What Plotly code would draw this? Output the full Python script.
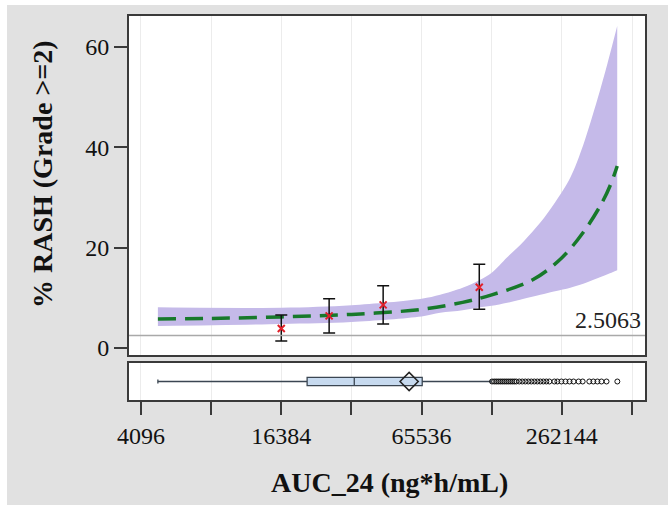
import plotly.graph_objects as go

# ---------------- data ----------------
curve_auc = [4840, 8192, 16384, 32768, 65536, 98304, 131072, 196608,
             262144, 327680, 393216, 425984, 453000]
curve_fit = [5.8, 5.9, 6.2, 6.7, 7.7, 9.1, 10.6, 13.6, 18.0, 23.4, 29.3, 32.8, 36.3]

band_auc = [4840, 16384, 32768, 65536, 78750, 98304, 116980, 131072, 152770,
            180000, 211920, 245000, 285030, 323850, 372500, 411610, 453000]
band_lower = [4.4, 4.8, 5.2, 6.3, 7.0, 7.5, 8.1, 8.4, 9.0,
              9.8, 10.6, 11.3, 12.0, 12.8, 13.9, 14.7, 15.5]
band_upper = [8.1, 8.0, 8.5, 9.8, 10.6, 12.0, 13.6, 15.0, 18.1,
              21.3, 25.0, 29.0, 34.0, 40.5, 49.6, 56.8, 64.2]

obs_auc = [16384, 26290, 44830, 115900]
obs_pct = [3.9, 6.4, 8.6, 12.1]
obs_hi = [6.6, 9.8, 12.4, 16.7]
obs_lo = [1.4, 3.0, 4.8, 7.7]

ref_value = 2.5063
ref_label = "2.5063"

box_min = 4840
box_q1 = 21150
box_median = 33700
box_q3 = 65950
box_mean = 57950
box_upper_whisker = 130000
outliers = [131500, 134350, 137040, 139780, 142570, 145410, 148310, 151270,
            154290, 157370, 160510, 163710, 166990, 172030, 177240, 182600,
            188120, 193800, 199660, 205700, 211920, 218330, 224930, 231740,
            243400, 250760, 260980, 271640, 282730, 294260, 309290, 321910,
            343840, 357870, 372500, 387700, 407580, 453460]

x_tickvals = [4096, 8192, 16384, 32768, 65536, 131072, 262144, 524288]
x_ticktext = ["4096", "", "16384", "", "65536", "", "262144", ""]
y_tickvals = [0, 20, 40, 60]

x_title = "AUC_24 (ng*h/mL)"
y_title = "% RASH (Grade >=2)"

# ---------------- styling ----------------
FONT = "Liberation Serif"
GRAY_BG = "#e1e1e1"
FRAME = "#3a3a3a"
GRID = "#ececec"
BAND = "rgb(197,186,233)"
GREEN = "#17792a"

fig = go.Figure()

# confidence band
fig.add_trace(go.Scatter(x=band_auc, y=band_lower, mode="lines",
                         line=dict(width=0, color=BAND, shape="spline", smoothing=0.9),
                         hoverinfo="skip", showlegend=False, xaxis="x", yaxis="y"))
fig.add_trace(go.Scatter(x=band_auc, y=band_upper, mode="lines",
                         line=dict(width=0, color=BAND, shape="spline", smoothing=0.9),
                         fill="tonexty", fillcolor=BAND,
                         hoverinfo="skip", showlegend=False, xaxis="x", yaxis="y"))
# fitted curve
fig.add_trace(go.Scatter(x=curve_auc, y=curve_fit, mode="lines",
                         line=dict(color=GREEN, width=3.5, dash="18px,9px", shape="spline"),
                         showlegend=False, xaxis="x", yaxis="y"))
# observed with error bars
fig.add_trace(go.Scatter(
    x=obs_auc, y=obs_pct, mode="markers",
    marker=dict(symbol="x-thin", size=7, line=dict(color="#e0202a", width=2)),
    error_y=dict(type="data", symmetric=False,
                 array=[h - p for h, p in zip(obs_hi, obs_pct)],
                 arrayminus=[p - l for p, l in zip(obs_pct, obs_lo)],
                 color="#111111", thickness=1.5, width=6),
    showlegend=False, xaxis="x", yaxis="y"))

# box plot
fig.add_trace(go.Box(
    orientation="h", y=[0], q1=[box_q1], median=[box_median], q3=[box_q3],
    lowerfence=[box_min], upperfence=[box_upper_whisker],
    fillcolor="#c7daef", line=dict(color="#3b4652", width=1.3),
    width=0.44, showlegend=False, xaxis="x2", yaxis="y2", hoverinfo="skip"))
fig.add_trace(go.Scatter(
    x=outliers, y=[0] * len(outliers), mode="markers",
    marker=dict(symbol="circle-open", size=5, color="#111111", line=dict(width=1)),
    showlegend=False, xaxis="x2", yaxis="y2"))
fig.add_trace(go.Scatter(
    x=[box_mean], y=[0], mode="markers",
    marker=dict(symbol="diamond-open", size=14, color="#222222", line=dict(width=1.5)),
    showlegend=False, xaxis="x2", yaxis="y2"))

xr = [3.5609, 5.7753]
common_x = dict(type="log", range=xr, tickvals=x_tickvals, ticktext=x_ticktext,
                showgrid=True, gridcolor=GRID, gridwidth=1,
                showline=True, linecolor=FRAME, linewidth=2, mirror=True,
                zeroline=False)

fig.update_layout(
    width=668, height=506,
    margin=dict(l=129, r=23, t=16, b=106),
    paper_bgcolor=GRAY_BG, plot_bgcolor="white",
    font=dict(family=FONT, size=24, color="#111111"),
    xaxis=dict(**common_x, anchor="y", showticklabels=False, ticks=""),
    yaxis=dict(domain=[0.1172, 1], anchor="x", range=[-1.4, 66.2],
               tickvals=y_tickvals, ticks="outside", ticklen=13, tickwidth=1.5,
               tickcolor=FRAME, showgrid=False, zeroline=False,
               showline=True, linecolor=FRAME, linewidth=2, mirror=True,
               tickfont=dict(family=FONT, size=24)),
    xaxis2=dict(**common_x, anchor="y2", matches="x", ticks="outside", ticklen=13,
                tickwidth=1.5, tickcolor=FRAME, tickfont=dict(family=FONT, size=24)),
    yaxis2=dict(domain=[0, 0.0964], anchor="x2", range=[-1, 1], showticklabels=False,
                ticks="", showgrid=False, zeroline=False,
                showline=True, linecolor=FRAME, linewidth=2, mirror=True),
    shapes=[
        dict(type="line", xref="x domain", yref="y", x0=0, x1=1, y0=ref_value, y1=ref_value,
             line=dict(color="#a9a9a9", width=1.5), layer="above"),
        dict(type="rect", xref="paper", yref="paper", x0=-0.3, x1=(7 - 129) / 516,
             y0=-0.4, y1=1.2, fillcolor="white", line=dict(width=0), layer="below"),
        dict(type="rect", xref="paper", yref="paper", x0=-0.3, x1=1.2,
             y0=(400 - 5) / 384, y1=1.2, fillcolor="white", line=dict(width=0), layer="below"),
        dict(type="rect", xref="paper", yref="paper", x0=-0.3, x1=1.2,
             y0=-0.4, y1=(400 - 505) / 384, fillcolor="white", line=dict(width=0), layer="below"),
    ],
    annotations=[
        dict(text=ref_label, xref="paper", yref="y", x=0.996, y=ref_value,
             xanchor="right", yanchor="bottom", showarrow=False,
             font=dict(family=FONT, size=24, color="#222222")),
        dict(text=x_title, xref="paper", yref="paper", x=0.5048, y=-0.216,
             xanchor="center", yanchor="middle", showarrow=False,
             font=dict(family=FONT, size=28, weight="bold", color="#111111")),
        dict(text=y_title, xref="paper", yref="paper", x=-0.1686, y=0.5885,
             xanchor="center", yanchor="middle", showarrow=False, textangle=-90,
             font=dict(family=FONT, size=28, weight="bold", color="#111111")),
    ],
)

fig.write_html("out.html")
